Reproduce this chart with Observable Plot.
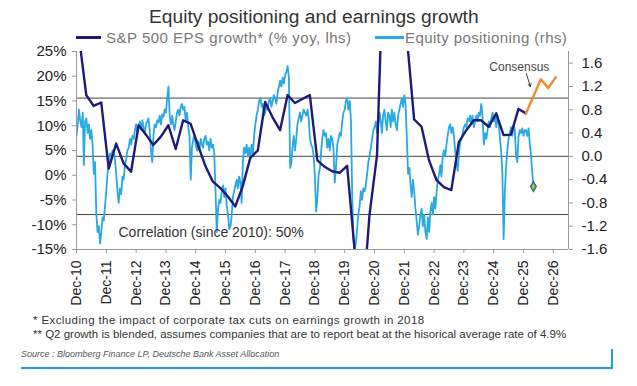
<!DOCTYPE html>
<html><head><meta charset="utf-8">
<script src="https://cdn.jsdelivr.net/npm/d3@7"></script>
<script src="https://cdn.jsdelivr.net/npm/@observablehq/plot@0.6"></script>
<style>
body{margin:0;background:#fff;font-family:"Liberation Sans",Arial,sans-serif;}
#wrap{position:relative;width:637px;height:386px;overflow:hidden;background:#fff;}
#chart{position:absolute;left:0;top:0;}
.t{position:absolute;white-space:nowrap;line-height:1;}
.seg{position:absolute;height:3px;}
</style></head><body><div id="wrap"><div id="chart"></div>
<div class="t" style="left:149px;top:7px;font-size:19.2px;color:#333;">Equity positioning and earnings growth</div>
<div class="seg" style="left:76px;top:36px;width:25px;background:#1e1a78;"></div>
<div class="t" style="left:106px;top:30px;font-size:15px;color:#777;letter-spacing:0.5px;">S&amp;P 500 EPS growth* (% yoy, lhs)</div>
<div class="seg" style="left:375px;top:36px;width:29px;background:#29a9e1;"></div>
<div class="t" style="left:405px;top:30px;font-size:15px;color:#777;letter-spacing:0.4px;">Equity positioning (rhs)</div>
<div class="t" style="left:33px;top:315px;font-size:11.5px;color:#333;letter-spacing:0.4px;">* Excluding the impact of corporate tax cuts on earnings growth in 2018</div>
<div class="t" style="left:33px;top:329px;font-size:11.5px;color:#333;">** Q2 growth is blended, assumes companies that are to report beat at the hisorical average rate of 4.9%</div>
<div class="t" style="left:21px;top:350px;font-size:9px;color:#555;font-style:italic;">Source : Bloomberg Finance LP, Deutsche Bank Asset Allocation</div>
<div style="position:absolute;left:21px;top:367px;width:592px;height:2px;background:#1fa0d8;"></div>
<div style="position:absolute;left:611px;top:349px;width:2px;height:19px;background:#1fa0d8;"></div>
</div>
<script>
// ---- data ----
// S&P 500 EPS growth, % yoy, quarterly from Q4 2010 (quarter-end) to Q4 2025
const epsGrowth = [
  28,
  16.2, 14.0, 14.7, 1.35,
  6.4, 2.4, 0.7, 10.1,
  8.2, 6.1, 7.8, 10.1,
  5.3, 11.1, 10.4, 6.0,
  1.8, -1.3, -2.6, -4.3,
  -6.3, -2.2, 3.5, 5.0,
  14.8, 11.7, 9.1, 16.2,
  14.6, 15.4, 16.2, 3.0,
  1.7, 0.8, 0.5, 1.9,
  -15, -28, -8, 4,
  50, 90, 40, 28,
  11.3, 9.8, 3.0, -1.0,
  -2.4, -3.0, 6.7, 9.1,
  11.1, 11.1, 9.8, 12.5,
  8.1, 8.2, 13.4, 12.5
];
// Consensus, Q4 2025 to Q4 2026
const consensus = [12.5, 15.9, 19.4, 17.6, 19.8];
const consensusStartQuarter = 60;
// Equity positioning (z-score, rhs), twice monthly (1st, 16th) from Dec 2010
const positioning = [
  0.35, 0.55,
  0.8, 0.6, 0.5, 0.75, -0.15, 0.6, 0.65, 0.4, 0.55, 0.3, 0.45, 0.2, -0.3, -0.1, -1.0, -1.3, -1.2, -1.5, -1.3, -1.05, -1.1, -0.85, -0.6, -0.3,
  -0.1, 0.05, 0.0, 0.1, 0.05, -0.05, -0.3, -0.6, -0.8, -0.55, -0.65, -0.35, -0.4, -0.15, -0.05, 0.1, 0.15, 0.3, 0.2, 0.35, 0.3, 0.45, 0.55, 0.4,
  0.5, 0.6, 0.45, 0.62, 0.5, 0.4, 0.55, 0.6, 0.65, 0.45, 0.1, -0.1, 0.35, 0.55, 0.5, 0.62, 0.58, 0.7, 0.55, 0.72, 0.68, 0.8, 0.75, 1.0,
  1.2, 0.7, 0.55, 0.7, 0.55, 0.45, 0.6, 0.75, 0.8, 0.7, 0.85, 0.9, 0.8, 0.85, 0.6, 0.75, 0.5, 0.35, -0.4, 0.15, 0.3, 0.35, 0.2, 0.1,
  0.25, 0.1, 0.3, 0.2, 0.15, 0.3, 0.35, 0.2, 0.25, 0.1, 0.3, 0.15, 0.2, 0.05, -0.6, -1.3, -0.9, -0.75, -0.8, -0.6, -0.5, -0.7, -0.55, -0.85,
  -1.0, -1.25, -1.2, -1.0, -0.7, -0.6, -0.5, -0.4, -0.55, -0.35, -0.45, -0.8, -0.1, 0.15, 0.05, 0.2, 0.0, 0.15, -0.05, 0.2, 0.05, 0.35, 0.55, 0.7,
  0.8, 0.95, 1.0, 0.85, 0.9, 0.7, 0.75, 0.9, 0.8, 0.95, 1.0, 0.85, 0.95, 1.05, 1.0, 0.9, 1.1, 1.2, 1.3, 1.2, 1.35, 1.25, 1.4, 1.45,
  1.55, 1.35, -0.2, -0.1, 0.15, 0.35, 0.1, 0.3, 0.55, 0.65, 0.75, 0.6, 0.7, 0.8, 0.75, 0.7, 0.8, 0.65, 0.3, 0.2, 0.15, 0.0, -0.35, -0.95,
  -0.7, -0.3, -0.2, 0.1, 0.3, 0.45, 0.35, 0.4, 0.15, 0.3, 0.1, 0.35, 0.3, 0.15, -0.45, -0.2, 0.2, 0.3, 0.4, 0.35, 0.6, 0.75, 0.8, 0.95,
  1.0, 0.8, 0.95, 0.6, -0.6, -1.4, -1.6, -1.5, -1.25, -1.0, -0.85, -0.6, -0.75, -0.55, -0.6, -0.5, -0.3, -0.1, 0.0, 0.15, 0.3, 0.45, 0.5, 0.6,
  0.4, 0.55, 0.75, 0.6, 0.4, 0.7, 0.8, 0.6, 0.45, 0.75, 0.7, 0.5, 0.8, 0.6, 0.75, 0.55, 0.45, 0.7, 0.8, 0.9, 1.0, 0.85, 1.05, 0.9,
  0.3, -0.3, -0.2, -0.5, -0.7, -0.4, -0.6, -0.9, -1.1, -1.35, -1.2, -1.0, -0.9, -1.2, -1.0, -1.3, -1.42, -1.05, -1.3, -0.95, -0.8, -1.0, -0.7, -0.9,
  -0.6, -0.4, -0.3, -0.15, -0.35, 0.0, 0.1, 0.0, 0.2, 0.35, 0.5, 0.55, 0.4, 0.5, 0.35, 0.1, -0.1, -0.25, 0.05, 0.25, 0.3, 0.4, 0.5, 0.55,
  0.5, 0.65, 0.6, 0.7, 0.55, 0.7, 0.5, 0.6, 0.7, 0.6, 0.75, 0.7, 0.9, 0.7, 0.2, 0.4, 0.3, 0.45, 0.6, 0.5, 0.65, 0.75, 0.6, 0.7,
  0.5, 0.7, 0.55, 0.3, 0.1, -0.25, -1.42, -0.6, -0.2, 0.1, 0.3, 0.4, 0.5, 0.35, 0.55, 0.45, 0.0, -0.1, 0.35, 0.45, 0.4, 0.48, 0.35, 0.45,
  0.45, 0.35, 0.48, 0.2, 0.05, -0.25, -0.52
];
const leftTicks = [-15, -10, -5, 0, 5, 10, 15, 20, 25];
const rightTicks = [-1.6, -1.2, -0.8, -0.4, 0.0, 0.4, 0.8, 1.2, 1.6];
const bandLevels = [-1, 0, 1];
const xTickYears = [2010,2011,2012,2013,2014,2015,2016,2017,2018,2019,2020,2021,2022,2023,2024,2025,2026];
const correlationText = "Correlation (since 2010): 50%";
const consensusLabel = "Consensus";

// ---- scales / helpers ----
const lhsDomain = [-15, 25];
const rhsDomain = [-1.6, 1.8];
const toLhs = p => lhsDomain[0] + (p - rhsDomain[0]) / (rhsDomain[1] - rhsDomain[0]) * (lhsDomain[1] - lhsDomain[0]);
const toRhs = v => rhsDomain[0] + (v - lhsDomain[0]) / (lhsDomain[1] - lhsDomain[0]) * (rhsDomain[1] - rhsDomain[0]);
const xDomain = [new Date(Date.UTC(2010, 11, 1)), new Date(Date.UTC(2027, 5, 5))];
const quarterEnd = i => d3.utcDay.offset(d3.utcMonth.offset(new Date(Date.UTC(2011, 0, 1)), 3 * i), -1);

const epsData = epsGrowth.map((v, i) => ({date: quarterEnd(i), v}));
const consData = consensus.map((v, i) => ({date: quarterEnd(consensusStartQuarter + i), v}));
const posData = positioning.map((p, i) => {
  const m = d3.utcMonth.offset(new Date(Date.UTC(2010, 11, 1)), Math.floor(i / 2));
  return {date: i % 2 ? d3.utcDay.offset(m, 15) : m, v: toLhs(p)};
});
const lastPos = posData[posData.length - 1];

const W = 637, H = 320, mL = 76, mR = 69, mT = 51, mB = 71;
const xs = d3.scaleUtc(xDomain, [mL, W - mR]);
const ys = d3.scaleLinear(lhsDomain, [H - mB, mT]);
const anchorPt = consData[1];
const ax = xs(anchorPt.date), ay = ys(anchorPt.v);
const arrowData = [{
  x1: xs.invert(ax - 7), y1: ys.invert(ay - 23),
  x2: xs.invert(ax - 3), y2: ys.invert(ay - 10)
}];

const navy = "#1e1a78", sky = "#29a9e1", orange = "#f08a32";
const rhsFmt = v => { const r = Math.round(toRhs(v) * 10) / 10; return (r === 0 ? 0 : r).toFixed(1); };

const chart = Plot.plot({
  width: W, height: H,
  marginLeft: mL, marginRight: mR, marginTop: mT, marginBottom: mB,
  style: {fontFamily: "'Liberation Sans', Arial, sans-serif", background: "transparent", color: "#222"},
  x: {type: "utc", domain: xDomain},
  y: {domain: lhsDomain},
  marks: [
    Plot.ruleY(bandLevels.map(toLhs), {stroke: "#444", strokeWidth: 1}),
    Plot.line(posData, {x: "date", y: "v", stroke: sky, strokeWidth: 1.8, clip: true}),
    Plot.line(epsData, {x: "date", y: "v", stroke: navy, strokeWidth: 2.4, clip: true}),
    Plot.line(consData, {x: "date", y: "v", stroke: orange, strokeWidth: 2.4, clip: true}),
    Plot.dot([lastPos], {x: "date", y: "v", symbol: "diamond", r: 3, fill: "#9acd32", stroke: "#1f5f8b", strokeWidth: 1.2}),
    Plot.text([correlationText], {frameAnchor: "bottom-left", text: d => d, dx: 42, dy: -13, fontSize: 14, fill: "#333", textAnchor: "start"}),
    Plot.text([anchorPt], {x: "date", y: "v", text: () => consensusLabel, dx: -14, dy: -29, fontSize: 12, fill: "#444"}),
    Plot.arrow(arrowData, {x1: "x1", y1: "y1", x2: "x2", y2: "y2", stroke: "#222", strokeWidth: 0.9, headLength: 5}),
    Plot.ruleX([xDomain[0], xDomain[1]], {stroke: "#999", strokeWidth: 1}),
    Plot.ruleY([lhsDomain[0]], {stroke: "#999", strokeWidth: 1}),
    Plot.axisY(leftTicks, {anchor: "left", tickFormat: d => d + "%", tickSize: 4, tickPadding: 6, fontSize: 15, stroke: "#999", fill: "#222", label: null}),
    Plot.axisY(rightTicks.map(toLhs), {anchor: "right", tickFormat: rhsFmt, tickSize: 4, tickPadding: 9, fontSize: 15, stroke: "#999", fill: "#222", textAnchor: "start", label: null}),
    Plot.axisX(xTickYears.map(y => new Date(Date.UTC(y, 11, 1))), {anchor: "bottom", tickFormat: d => "Dec-" + String(d.getUTCFullYear()).slice(2), tickRotate: -90, tickSize: 4, tickPadding: 7, fontSize: 14, stroke: "#999", fill: "#222", label: null})
  ]
});
document.getElementById("chart").appendChild(chart);
</script></body></html>
